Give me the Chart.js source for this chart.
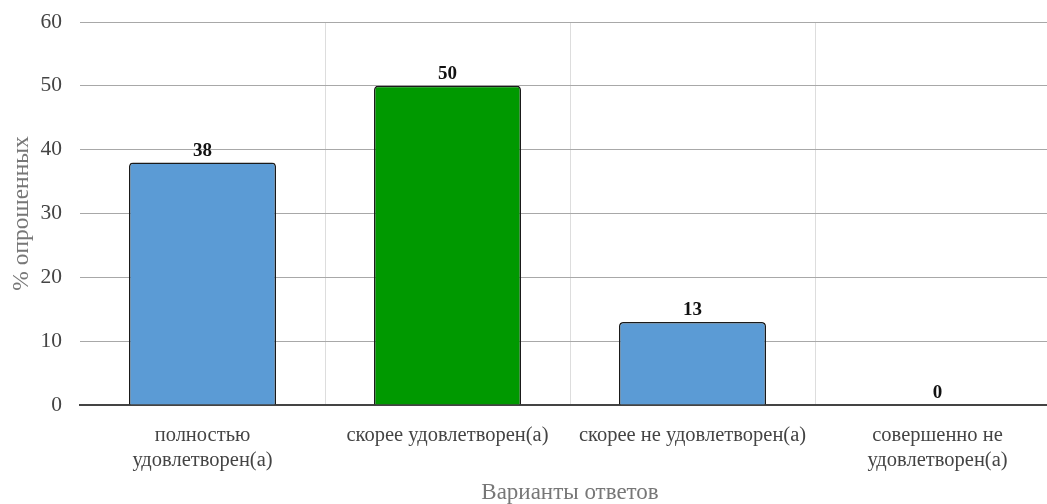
<!DOCTYPE html>
<html>
<head>
<meta charset="utf-8">
<script src="https://cdn.jsdelivr.net/npm/chart.js@4.4.1/dist/chart.umd.min.js"></script>
<style>
html,body{margin:0;padding:0;background:#fff;overflow:hidden;}
#wrap{position:relative;width:1062px;height:504px;}
</style>
</head>
<body>
<div id="wrap"><canvas id="c"></canvas></div>
<script>
const categories = [
  ["полностью", "удовлетворен(а)"],
  "скорее удовлетворен(а)",
  "скорее не удовлетворен(а)",
  ["совершенно не", "удовлетворен(а)"]
];
const values = [38, 50, 13, 0];
const barColors = ["#5B9BD5", "#009900", "#5B9BD5", "#5B9BD5"];
const yTicks = [0, 10, 20, 30, 40, 50, 60];
const yTitle = "% опрошенных";
const xTitle = "Варианты ответов";

const FONT = "'Liberation Serif', 'DejaVu Serif', serif";

const valueLabels = {
  id: 'valueLabels',
  afterDatasetsDraw(chart) {
    const ctx = chart.ctx;
    const meta = chart.getDatasetMeta(0);
    ctx.save();
    ctx.font = "bold 19px " + FONT;
    ctx.fillStyle = "#111";
    ctx.textAlign = "center";
    ctx.textBaseline = "bottom";
    meta.data.forEach((el, i) => {
      ctx.fillText(String(values[i]), el.x, el.y - 2);
    });
    ctx.restore();
  }
};

new Chart(document.getElementById('c'), {
  type: 'bar',
  data: {
    labels: categories,
    datasets: [{
      data: values,
      backgroundColor: barColors,
      borderColor: "#1a1a1a",
      borderWidth: 1.5,
      borderRadius: {topLeft: 4, topRight: 4, bottomLeft: 0, bottomRight: 0},
      borderSkipped: 'bottom',
      barPercentage: 0.6,
      categoryPercentage: 1.0
    }]
  },
  options: {
    responsive: true,
    maintainAspectRatio: false,
    animation: false,
    layout: {padding: {top: 22, right: 2, bottom: 0, left: 0}},
    plugins: {legend: {display: false}, tooltip: {enabled: false}},
    scales: {
      x: {
        grid: {
          color: (c) => c.index === 0 ? 'rgba(0,0,0,0)' : '#dddddd',
          lineWidth: 1,
          drawTicks: false,
          offset: true
        },
        border: {display: true, color: '#444', width: 2},
        ticks: {
          color: '#444',
          font: {family: FONT, size: 20.5, lineHeight: 1.22},
          padding: 18,
          maxRotation: 0,
          autoSkip: false
        },
        title: {
          display: true,
          text: xTitle,
          color: '#777',
          font: {family: FONT, size: 23, lineHeight: 1},
          padding: {top: 0, bottom: 0}
        },
        afterFit(s) { s.height = 99; s.paddingLeft = 0; s.paddingRight = 0; }
      },
      y: {
        min: 0,
        max: 60,
        afterBuildTicks(s) { s.ticks = yTicks.map(v => ({value: v})); },
        grid: {
          color: (c) => c.index === 0 ? 'rgba(0,0,0,0)' : '#a8a8a8',
          lineWidth: 1,
          drawTicks: false
        },
        border: {display: false},
        ticks: {
          color: '#444',
          font: {family: FONT, size: 21.5},
          padding: 18
        },
        title: {
          display: true,
          text: yTitle,
          color: '#777',
          font: {family: FONT, size: 23.5, lineHeight: 1},
          padding: {top: 10, bottom: 0}
        },
        afterFit(s) { s.width = 80; s.paddingTop = 0; s.paddingBottom = 0; }
      }
    }
  },
  plugins: [valueLabels]
});
</script>
</body>
</html>
